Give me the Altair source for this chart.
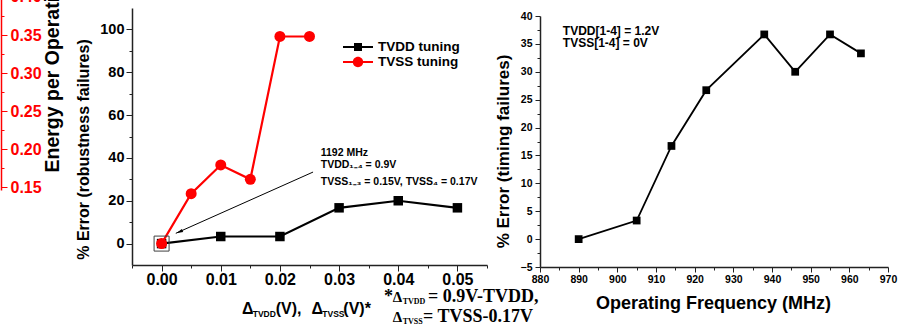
import altair as alt
import pandas as pd

# ---------------- data ----------------
series_names = ["TVDD tuning", "TVSS tuning"]

tvdd_delta = [0.00, 0.01, 0.02, 0.03, 0.04, 0.05]
tvdd_error = [0.0, 3.3, 3.3, 16.7, 20.0, 16.7]

tvss_delta = [0.000, 0.005, 0.010, 0.015, 0.020, 0.025]
tvss_error = [0.0, 23.3, 36.7, 30.0, 96.7, 96.7]

freq_mhz = [890, 905, 914, 923, 938, 946, 955, 963]
timing_error = [0.0, 3.33, 16.7, 26.7, 36.7, 30.0, 36.7, 33.3]

energy_labels = [0.15, 0.20, 0.25, 0.30, 0.35, 0.40]
energy_minor = [0.175, 0.225, 0.275, 0.325, 0.375, 0.425]
mid_y_labels = [0, 20, 40, 60, 80, 100]
mid_y_minor = [10, 30, 50, 70, 90]
mid_x_labels = [0.00, 0.01, 0.02, 0.03, 0.04, 0.05]
mid_x_minor = [-0.005, 0.005, 0.015, 0.025, 0.035, 0.045, 0.055]
right_y_labels = [-5, 0, 5, 10, 15, 20, 25, 30, 35, 40]
right_y_minor = [-2.5, 2.5, 7.5, 12.5, 17.5, 22.5, 27.5, 32.5, 37.5]
right_x_labels = [880, 890, 900, 910, 920, 930, 940, 950, 960, 970]
right_x_minor = [885, 895, 905, 915, 925, 935, 945, 955, 965]

# annotation anchors (data units)
box_delta = [0.0]
box_error = [0.0]
arrow_tail = [0.0256, 33.4]
arrow_head = [0.0024, 4.8]
arrow_tip_marker = [0.0030, 5.46]
note_lines = ["1192 MHz", "TVDD₁₋₄ = 0.9V", "TVSS₁₋₃ = 0.15V, TVSS₄ = 0.17V"]
note_delta = [0.0269, 0.0269, 0.0269]
note_error = [42.2, 36.7, 28.6]
right_note_lines = ["TVDD[1-4] = 1.2V", "TVSS[1-4] = 0V"]
right_note_freq = [885.9, 885.9]
right_note_error = [37.4, 35.1]

# ---------------- styling ----------------
RED = "#ff0000"
SANS = "Liberation Sans"
SERIF = "Liberation Serif"
AX = "#222222"

SQ_SYM = "M-1.875,-0.125H1.875V0.125H-1.875Z M-0.5,-0.5H0.5V0.5H-0.5Z"
CI_SYM = ("M-1.875,-0.125H1.875V0.125H-1.875Z "
          "M-0.65,0A0.65,0.65 0 1,1 0.65,0A0.65,0.65 0 1,1 -0.65,0Z")
ARROW_SYM = "M0,-1L0.45,1L-0.45,1Z"


def minor_axis(values, minor, test, fmt, major_len, minor_len, **kw):
    return alt.Axis(
        values=values + minor,
        labelExpr=f"({test}) ? '' : format(datum.value, '{fmt}')",
        tickSize={"condition": {"test": test, "value": minor_len}, "value": major_len},
        labelOverlap=False, labelFlush=False, grid=False, **kw)


def piece(text, px, py, size, font=SANS):
    return alt.Chart(pd.DataFrame({"t": [text]})).mark_text(
        align="left", baseline="alphabetic", font=font, fontSize=size,
        fontWeight="bold", color="black"
    ).encode(text="t:N", x=alt.value(px), y=alt.value(py))


# ---------------- panel A: energy axis fragment ----------------
energy_axis = minor_axis(
    energy_labels, energy_minor, "round(datum.value*40) % 2 == 1", ".2f", 6, 3,
    orient="right", offset=-905, domainColor=RED, tickColor=RED, labelColor=RED,
    labelFontSize=16, labelFontWeight="bold", labelPadding=3, domainWidth=1.5,
    title="Energy per Operation", titleColor="black", titleFontSize=19.5,
    titleFontWeight="bold", titleAngle=270, titleAlign="left",
    titleBaseline="middle", titleX=51, titleY=172)
energy_df = pd.DataFrame({"energy": energy_labels})
panelA = alt.Chart(energy_df).mark_point(opacity=0).encode(
    x=alt.value(0),
    y=alt.Y("energy:Q", scale=alt.Scale(domain=[0.1467, 0.4748], range=[190, -60],
                                        nice=False, zero=False), axis=energy_axis))

# ---------------- middle panel ----------------
mid_x_axis = minor_axis(
    mid_x_labels, mid_x_minor, "abs(round(datum.value*200)) % 2 == 1", ".2f", 6, 3,
    orient="bottom", offset=-64, labelFontSize=16, labelPadding=0, title=None,
    domainWidth=1.5)
mid_y_axis = minor_axis(
    mid_y_labels, mid_y_minor, "datum.value % 20 != 0", "d", 6, 3,
    orient="left", offset=-132, labelFontSize=14.5, labelPadding=2, domainWidth=1.5,
    title="% Error (robustness failures)", titleFontSize=16, titleAngle=270,
    titleAlign="center", titleBaseline="middle", titleX=-49, titleY=149)

mx_scale = alt.Scale(domain=[-0.005, 0.055], range=[132, 487], nice=False, zero=False)
my_scale = alt.Scale(domain=[-10, 110], range=[265, 8], nice=False, zero=False)
mx = alt.X("delta:Q", scale=mx_scale, axis=mid_x_axis)
my = alt.Y("error:Q", scale=my_scale, axis=mid_y_axis)

tvdd_df = pd.DataFrame({"delta": tvdd_delta, "error": tvdd_error, "series": series_names[0]})
tvss_df = pd.DataFrame({"delta": tvss_delta, "error": tvss_error, "series": series_names[1]})
both_df = pd.concat([tvdd_df, tvss_df], ignore_index=True)

tvdd_line = alt.Chart(tvdd_df).mark_line(color="black", strokeWidth=2.2).encode(x=mx, y=my)
tvdd_pts = alt.Chart(tvdd_df).mark_square(color="black", size=90, opacity=1).encode(x=mx, y=my)
tvss_line = alt.Chart(tvss_df).mark_line(color=RED, strokeWidth=2.2).encode(x=mx, y=my)
tvss_pts = alt.Chart(tvss_df).mark_circle(color=RED, size=121, opacity=1).encode(x=mx, y=my)

box = alt.Chart(pd.DataFrame({"delta": box_delta, "error": box_error})).mark_point(
    shape="square", size=225, filled=False, color="#404040", strokeWidth=1, opacity=1
).encode(x=mx, y=my)

arrow_df = pd.DataFrame({"delta": [arrow_tail[0]], "error": [arrow_tail[1]],
                         "delta2": [arrow_head[0]], "error2": [arrow_head[1]]})
arrow = alt.Chart(arrow_df).mark_rule(color="black", strokeWidth=1).encode(
    x=mx, y=my, x2="delta2:Q", y2="error2:Q")
arrow_tip = alt.Chart(pd.DataFrame({"delta": [arrow_tip_marker[0]],
                                    "error": [arrow_tip_marker[1]]})).mark_point(
    shape=ARROW_SYM, size=49, filled=True, color="black", opacity=1, angle=245.9
).encode(x=mx, y=my)

notes_df = pd.DataFrame({"delta": note_delta, "error": note_error, "txt": note_lines})
notes = alt.Chart(notes_df).mark_text(
    align="left", baseline="middle", font=SANS, fontSize=10.5, fontWeight="bold", color="black"
).encode(x=mx, y=my, text="txt:N")

leg = alt.Legend(title=None, orient="none", legendX=350, legendY=39,
                 labelFont=SANS, labelFontSize=13.5, labelFontWeight="bold",
                 labelColor="black", symbolSize=256, symbolStrokeWidth=0,
                 rowPadding=0, labelOffset=12, padding=0, labelLimit=300,
                 symbolOpacity=1)
legend_layer = alt.Chart(both_df).transform_filter("false").mark_point(
    filled=True, opacity=1, size=256
).encode(
    x=mx, y=my,
    color=alt.Color("series:N", scale=alt.Scale(domain=series_names, range=["#000000", RED]), legend=leg),
    shape=alt.Shape("series:N", scale=alt.Scale(domain=series_names, range=[SQ_SYM, CI_SYM]), legend=leg),
)

title_pieces = [
    piece("Δ", 242, 313.5, 16),
    piece("TVDD", 252.7, 317, 8.5),
    piece("(V),", 275.7, 313.5, 16),
    piece("Δ", 311.5, 313.5, 16),
    piece("TVSS", 322.3, 317, 8.5),
    piece("(V)*", 343.3, 313.5, 16),
    piece("*", 384, 302, 18, SERIF),
    piece("Δ", 392.7, 302, 15, SERIF),
    piece("TVDD", 402.7, 304, 8, SERIF),
    piece("= 0.9V-TVDD,", 428, 302, 18, SERIF),
    piece("Δ", 392.7, 321.5, 15, SERIF),
    piece("TVSS", 402.7, 323.5, 8, SERIF),
    piece("= TVSS-0.17V", 423, 321.5, 18, SERIF),
]

middle = alt.layer(tvdd_line, tvdd_pts, tvss_line, tvss_pts, box, arrow, arrow_tip,
                   notes, legend_layer, *title_pieces)

# ---------------- right panel ----------------
right_x_axis = minor_axis(
    right_x_labels, right_x_minor, "datum.value % 10 != 0", "d", 5, 3,
    orient="bottom", offset=-62, labelFontSize=10.5, labelPadding=2, domainWidth=1.5,
    title="Operating Frequency (MHz)", titleFontSize=18, titleX=713, titleY=36,
    titleAlign="center", titleBaseline="middle")
right_y_axis = minor_axis(
    right_y_labels, right_y_minor, "datum.value % 5 != 0", "d", 5, 3,
    orient="left", offset=-540, labelFontSize=10.5, labelPadding=3, domainWidth=1.5,
    title="% Error (timing failures)", titleFontSize=17, titleAngle=270,
    titleAlign="center", titleBaseline="middle", titleX=-37, titleY=151)

rx = alt.X("freq:Q", scale=alt.Scale(domain=[880, 970], range=[540, 888], nice=False, zero=False),
           axis=right_x_axis)
ry = alt.Y("err:Q", scale=alt.Scale(domain=[-5, 40], range=[267, 16], nice=False, zero=False),
           axis=right_y_axis)
right_df = pd.DataFrame({"freq": freq_mhz, "err": timing_error})
right_line = alt.Chart(right_df).mark_line(color="black", strokeWidth=1.8).encode(x=rx, y=ry)
right_pts = alt.Chart(right_df).mark_square(color="black", size=60, opacity=1).encode(x=rx, y=ry)
right_notes = alt.Chart(pd.DataFrame({"freq": right_note_freq, "err": right_note_error,
                                      "txt": right_note_lines})).mark_text(
    align="left", baseline="middle", font=SANS, fontSize=12, fontWeight="bold", color="black"
).encode(x=rx, y=ry, text="txt:N")
right = alt.layer(right_line, right_pts, right_notes)

# ---------------- assemble ----------------
chart = alt.layer(panelA, middle, right).resolve_scale(
    x="independent", y="independent"
).resolve_axis(
    x="independent", y="independent"
).properties(
    width=906, height=329, autosize=alt.AutoSizeParams(type="none"), padding=0
).configure_view(stroke=None).configure_axis(
    labelFont=SANS, titleFont=SANS, labelFontWeight="bold", titleFontWeight="bold",
    labelColor="black", titleColor="black", tickColor=AX, domainColor=AX, tickWidth=1
)

chart.save("out.html", embed_options={"renderer": "svg", "actions": False})
